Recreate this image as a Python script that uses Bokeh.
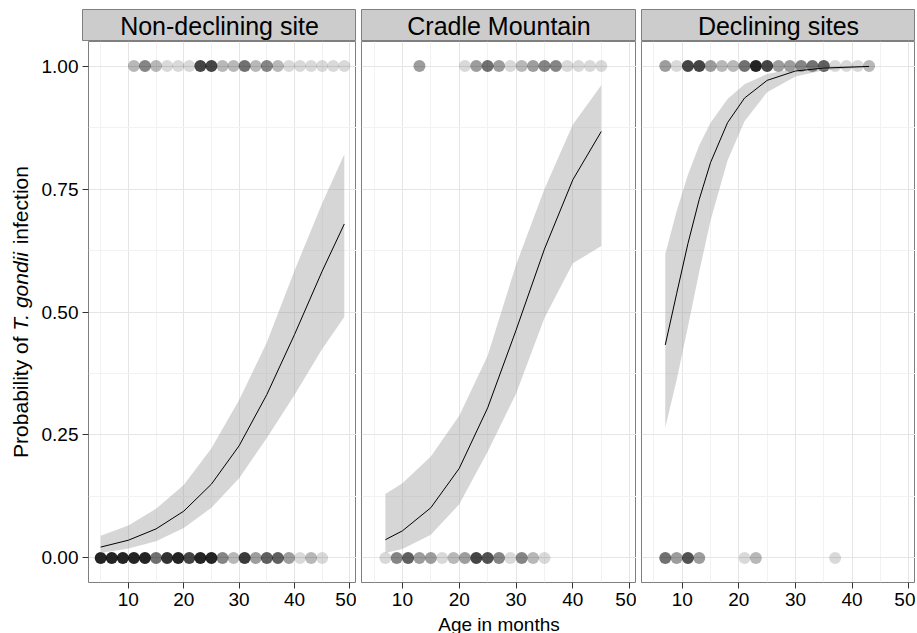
import math
from bokeh.plotting import figure
from bokeh.layouts import column, row
from bokeh.models import FixedTicker, Label, ColumnDataSource, Range1d
from bokeh.embed import file_html
from bokeh.resources import INLINE

# ---------------- data ----------------
PANELS = ["Non-declining site", "Cradle Mountain", "Declining sites"]

X_TICKS = [10, 20, 30, 40, 50]
X_MINOR = [5, 15, 25, 35, 45]
Y_TICKS = [0.0, 0.25, 0.5, 0.75, 1.0]
Y_MINOR = [0.125, 0.375, 0.625, 0.875]
Y_TICK_LABELS = ["0.00", "0.25", "0.50", "0.75", "1.00"]
X_TITLE = "Age in months"
Y_TITLE = [("Probability of", "normal"), ("T. gondii", "italic"), ("infection", "normal")]

# observed animals: age (months) and number of animals at that age
ND_NEG_AGE = [5, 7, 9, 11, 13, 15, 17, 19, 21, 23, 25, 27, 29, 31, 33, 35, 37, 39, 41, 43, 45]
ND_NEG_N = [12, 12, 12, 12, 12, 5, 10, 12, 8, 12, 12, 4, 2, 9, 3, 6, 6, 3, 1, 2, 1]
ND_POS_AGE = [11, 13, 15, 17, 19, 21, 23, 25, 27, 29, 31, 33, 35, 37, 39, 41, 43, 45, 47, 49]
ND_POS_N = [2, 4, 2, 1, 1, 1, 8, 8, 2, 2, 5, 2, 4, 2, 1, 1, 1, 1, 1, 1]

CM_NEG_AGE = [7, 9, 11, 13, 15, 17, 19, 21, 23, 25, 27, 29, 31, 33, 35]
CM_NEG_N = [1, 4, 6, 3, 3, 1, 2, 3, 8, 7, 4, 1, 4, 2, 1]
CM_POS_AGE = [13, 21, 23, 25, 27, 29, 31, 33, 35, 37, 39, 41, 43, 45]
CM_POS_N = [3, 1, 3, 5, 3, 1, 2, 3, 4, 4, 1, 1, 1, 1]

DS_NEG_AGE = [7, 9, 11, 13, 21, 23, 37]
DS_NEG_N = [5, 3, 7, 3, 1, 2, 1]
DS_POS_AGE = [7, 9, 11, 13, 15, 17, 19, 21, 23, 25, 27, 29, 31, 33, 35, 37, 39, 41, 43]
DS_POS_N = [3, 1, 8, 8, 3, 2, 2, 5, 12, 8, 3, 3, 4, 5, 6, 1, 1, 1, 2]

# fitted probability and confidence band
ND_FIT_AGE = [5, 10, 15, 20, 25, 30, 35, 40, 45, 49]
ND_FIT = [0.022, 0.036, 0.059, 0.095, 0.150, 0.228, 0.332, 0.454, 0.583, 0.679]
ND_LO = [0.010, 0.019, 0.034, 0.061, 0.102, 0.162, 0.244, 0.331, 0.425, 0.490]
ND_HI = [0.045, 0.066, 0.100, 0.148, 0.223, 0.321, 0.438, 0.584, 0.721, 0.821]

CM_FIT_AGE = [7, 10, 15, 20, 25, 30, 35, 40, 45]
CM_FIT = [0.037, 0.055, 0.102, 0.182, 0.305, 0.463, 0.628, 0.769, 0.867]
CM_LO = [0.010, 0.018, 0.047, 0.109, 0.216, 0.334, 0.488, 0.599, 0.634]
CM_HI = [0.130, 0.152, 0.206, 0.289, 0.411, 0.596, 0.750, 0.881, 0.961]

DS_FIT_AGE = [7, 9, 11, 13, 15, 18, 21, 25, 30, 35, 43]
DS_FIT = [0.433, 0.537, 0.639, 0.729, 0.804, 0.885, 0.935, 0.971, 0.990, 0.996, 0.9993]
DS_LO = [0.265, 0.361, 0.470, 0.582, 0.686, 0.808, 0.888, 0.947, 0.979, 0.9915, 0.998]
DS_HI = [0.618, 0.705, 0.779, 0.839, 0.885, 0.933, 0.963, 0.984, 0.9949, 0.9984, 0.9998]

PANEL_DATA = [
    (ND_NEG_AGE, ND_NEG_N, ND_POS_AGE, ND_POS_N, ND_FIT_AGE, ND_FIT, ND_LO, ND_HI),
    (CM_NEG_AGE, CM_NEG_N, CM_POS_AGE, CM_POS_N, CM_FIT_AGE, CM_FIT, CM_LO, CM_HI),
    (DS_NEG_AGE, DS_NEG_N, DS_POS_AGE, DS_POS_N, DS_FIT_AGE, DS_FIT, DS_LO, DS_HI),
]

# ---------------- styling / layout ----------------
FONT = "Liberation Sans"
XMIN, XMAX = 2.8, 51.2
YMIN, YMAX = -0.05, 1.05
POINT_ALPHA = 0.15
YT_W = 38            # width of the y-title column
FRAME_H = 541
FRAME_W = [274, 275, 274]
LEFT_B = [44, 5, 5]
BOTTOM_B = 31
STRIP_TOP = 9
STRIP_H = 32
XT_H = 21
MAJOR_GRID = "#e5e5e5"
MINOR_GRID = "#f2f2f2"
BORDER = "#7f7f7f"
XTITLE_PX = 19
YTITLE_PX = 21
TICK_PX = "19px"
# Arial/Liberation em widths of the y-title pieces and of a space
PIECE_EM = [5.780, 3.835, 3.724]
SPACE_EM = 0.278


def blank_fig(w, h, xr, yr):
    f = figure(width=w, height=h, x_range=xr, y_range=yr, toolbar_location=None,
               output_backend="svg", x_axis_location=None, y_axis_location=None,
               min_border=0)
    f.grid.visible = False
    f.outline_line_color = None
    f.background_fill_color = "white"
    f.border_fill_color = "white"
    return f


strips, panels = [], []
for i, name in enumerate(PANELS):
    neg_age, neg_n, pos_age, pos_n, f_age, f_fit, f_lo, f_hi = PANEL_DATA[i]
    xr = Range1d(XMIN, XMAX)
    w = FRAME_W[i] + LEFT_B[i]

    # strip
    s = figure(width=w, height=STRIP_H + STRIP_TOP, x_range=xr, y_range=Range1d(0, 1),
               toolbar_location=None, output_backend="svg",
               x_axis_location=None, y_axis_location=None,
               min_border_left=LEFT_B[i], min_border_right=0,
               min_border_top=STRIP_TOP, min_border_bottom=0)
    s.background_fill_color = "#cccccc"
    s.border_fill_color = "white"
    s.outline_line_color = BORDER
    s.outline_line_width = 1
    s.grid.visible = False
    s.add_layout(Label(x=(XMIN + XMAX) / 2, y=0.5, text=name, text_align="center",
                       text_baseline="middle", text_font_size="25px",
                       text_font=FONT, text_color="black"))
    strips.append(s)

    # panel
    p = figure(width=w, height=FRAME_H + BOTTOM_B, x_range=xr,
               y_range=Range1d(YMIN, YMAX), toolbar_location=None,
               output_backend="svg", x_axis_location="below",
               y_axis_location="left" if i == 0 else None,
               min_border_left=LEFT_B[i], min_border_right=0,
               min_border_top=0, min_border_bottom=BOTTOM_B)
    p.background_fill_color = "white"
    p.border_fill_color = "white"
    p.outline_line_color = BORDER
    p.outline_line_width = 1

    p.xgrid.ticker = FixedTicker(ticks=X_TICKS, minor_ticks=X_MINOR)
    p.ygrid.ticker = FixedTicker(ticks=Y_TICKS, minor_ticks=Y_MINOR)
    for g in (p.xgrid, p.ygrid):
        g.grid_line_color = MAJOR_GRID
        g.grid_line_width = 1
        g.minor_grid_line_color = MINOR_GRID
        g.minor_grid_line_width = 1

    axes = [p.xaxis[0]] + ([p.yaxis[0]] if i == 0 else [])
    for ax in axes:
        ax.major_label_text_font = FONT
        ax.major_label_text_font_size = TICK_PX
        ax.major_label_text_color = "black"
        ax.major_tick_out = 6
        ax.major_tick_in = 0
        ax.major_tick_line_color = "#333333"
        ax.minor_tick_line_color = None
        ax.axis_line_color = None
        ax.major_label_standoff = 4
    p.xaxis[0].ticker = FixedTicker(ticks=X_TICKS)
    if i == 0:
        p.yaxis[0].ticker = FixedTicker(ticks=Y_TICKS)
        p.yaxis[0].major_label_overrides = {t: lab for t, lab in zip(Y_TICKS, Y_TICK_LABELS)}

    # observations
    for ages, ns, yv in ((neg_age, neg_n, 0.0), (pos_age, pos_n, 1.0)):
        src = ColumnDataSource(dict(age=ages, y=[yv] * len(ages),
                                    a=[1 - (1 - POINT_ALPHA) ** n for n in ns]))
        p.scatter("age", "y", source=src, size=12, fill_color="black",
                  fill_alpha="a", line_color=None)

    # confidence band and fitted curve
    p.varea(x=f_age, y1=f_lo, y2=f_hi, fill_color="#999999", fill_alpha=0.4)
    p.line(x=f_age, y=f_fit, line_color="black", line_width=1)
    panels.append(p)

# x-axis title strip (pixel coordinates)
grid_w = sum(FRAME_W) + sum(LEFT_B)
xt = blank_fig(grid_w, XT_H, Range1d(0, grid_w), Range1d(0, XT_H))
x_center = LEFT_B[0] + (grid_w - LEFT_B[0]) / 2
xt.add_layout(Label(x=x_center, y=XT_H / 2, text=X_TITLE, text_align="center",
                    text_baseline="middle", text_font=FONT,
                    text_font_size=f"{XTITLE_PX}px", text_color="black"))

# y-axis title column (pixel coordinates, y upwards)
yt_h = STRIP_TOP + STRIP_H + FRAME_H + BOTTOM_B
yt = blank_fig(YT_W, yt_h, Range1d(0, YT_W), Range1d(0, yt_h))
total = (sum(PIECE_EM) + SPACE_EM * (len(PIECE_EM) - 1)) * YTITLE_PX
y_mid = BOTTOM_B + FRAME_H / 2
pos = y_mid - total / 2
for (txt, style), wem in zip(Y_TITLE, PIECE_EM):
    yt.add_layout(Label(x=20, y=pos, text=txt,
                        angle=math.pi / 2, text_align="left", text_baseline="middle",
                        text_font=FONT, text_font_style=style,
                        text_font_size=f"{YTITLE_PX}px", text_color="black"))
    pos += (wem + SPACE_EM) * YTITLE_PX

layout = row(yt, column(row(*strips), row(*panels), xt))
open("out.html", "w").write(file_html(layout, INLINE))
